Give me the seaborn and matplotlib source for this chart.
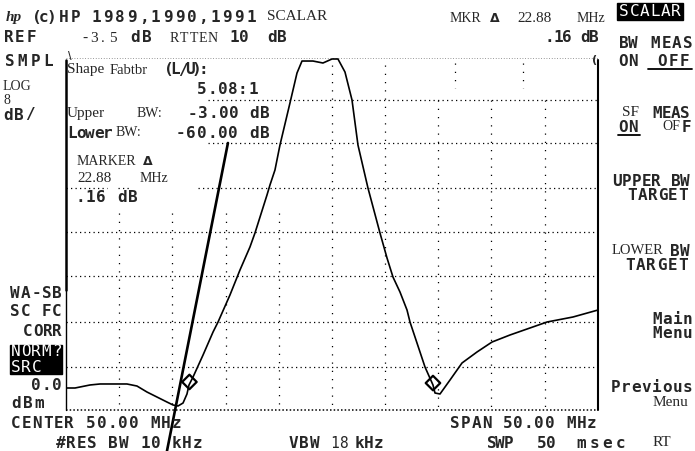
import matplotlib
matplotlib.use("Agg")
import matplotlib.pyplot as plt
from matplotlib.patches import Rectangle
from matplotlib.lines import Line2D
import pandas as pd
import seaborn as sns

# filter response
freq_mhz = [25.00, 25.85, 27.26, 28.20, 29.42, 30.73, 31.67, 32.61, 33.55, 34.49,
            35.06, 35.53, 36.00, 36.37, 36.56, 36.94, 37.88, 38.82, 39.29, 40.41,
            41.35, 42.29, 42.76, 43.89, 44.17, 44.64, 45.11, 46.05, 46.71, 47.18,
            48.21, 49.15, 50.00, 50.56, 51.22, 51.88, 52.44, 53.38, 54.51, 55.17,
            55.73, 56.39, 57.05, 57.33, 58.74, 59.49, 59.68, 60.15, 61.09, 62.22,
            63.63, 65.04, 66.73, 70.21, 72.65, 75.00]
level_db = [-63.50, -63.50, -62.95, -62.77, -62.77, -62.77, -63.14, -64.23, -65.14, -66.05,
            -66.59, -66.77, -66.23, -64.59, -62.95, -61.50, -57.50, -53.32, -51.50, -46.59,
            -42.05, -37.86, -35.32, -28.41, -26.59, -23.86, -19.32, -11.68, -6.23, -4.05,
            -4.05, -4.41, -3.68, -3.68, -6.05, -11.14, -19.32, -27.14, -35.32, -39.86,
            -43.32, -46.05, -49.32, -51.50, -59.68, -62.95, -64.41, -64.59, -62.05, -58.95,
            -56.95, -55.14, -53.86, -51.50, -50.59, -49.32]

marker_mhz = [36.60, 59.49]
marker_db = [-62.4, -62.6]

# shape factor line
line_mhz = [40.22, 34.49]
line_db = [-18.95, -74.95]

ref_db = -3.5
db_per_div = 8
start_mhz = 25.0
stop_mhz = 75.0

W, H = 695, 451
L, R, T, B = 66, 598, 58, 410

sns.set_theme(style="white")
plt.rcParams["font.family"] = ["DejaVu Sans Mono", "DejaVu Sans"]

fig = plt.figure(figsize=(W / 100, H / 100), dpi=100)
ax = fig.add_axes([L / W, (H - B) / H, (R - L) / W, (B - T) / H])
ax.set_xlim(start_mhz, stop_mhz)
ax.set_ylim(ref_db - 8 * db_per_div, ref_db)
ax.axis("off")


def fx(px):
    return start_mhz + (px - L) / (R - L) * (stop_mhz - start_mhz)


def fy(py):
    return ref_db - (py - T) / (B - T) * 8 * db_per_div


def seg(x0, y0, x1, y1, **kw):
    ax.plot([fx(x0), fx(x1)], [fy(y0), fy(y1)], clip_on=False, **kw)


hdots = dict(color="black", lw=0.9, ls=(0, (1, 2.6)))
vdots = dict(color="black", lw=0.9, ls=(0, (1, 5.6)))

# graticule, with the hole left by the text box
for y, parts in [(100, [(208, R)]), (143, [(208, R)]),
                 (188, [(L, 107), (118, 130), (198, R)]),
                 (232, [(L, R)]), (276, [(L, R)]), (322, [(L, R)]), (367, [(L, R)])]:
    for a, b in parts:
        seg(a, y, b, y, **hdots)
for x, top in [(119, 213), (172, 213), (226, 213), (279, 213),
               (332, 65), (385, 65), (438, 100), (491, 100), (545, 100)]:
    seg(x, top, x, B, **vdots)
for x in (455, 523):
    seg(x, 63, x, 88, **vdots)
seg(L, T, R, T, color="#777777", lw=0.6, ls=(0, (1, 2.2)))
seg(L, B, R, B, color="black", lw=1.1, ls=(0, (1, 1.4)))
seg(L, 60, L, 290, color="black", lw=1.8)
seg(L, 290, L, B, color="black", lw=1.0)
seg(R, 60, R, B, color="black", lw=1.5)

trace = pd.DataFrame({"MHz": freq_mhz, "dB": level_db})
sns.lineplot(data=trace, x="MHz", y="dB", sort=False, estimator=None,
             color="black", lw=1.2, ax=ax)
sns.lineplot(x=line_mhz, y=line_db, sort=False, estimator=None,
             color="black", lw=1.9, ax=ax, clip_on=False)
sns.scatterplot(x=marker_mhz, y=marker_db, marker="D", s=55, facecolor="none",
                edgecolor="black", linewidth=1.6, ax=ax, zorder=5)


def put(x, y, s, size=11, family="Liberation Serif", weight="normal", ha="left", **kw):
    fig.text(x / W, 1 - y / H, s, fontsize=size, family=family, weight=weight,
             ha=ha, va="center", **kw)


def spread(x0, x1, y, s, size=11.5, family="DejaVu Sans Mono", weight="bold", **kw):
    n = len(s)
    for i, c in enumerate(s):
        if c != " ":
            xc = x0 + (i + 0.5) * (x1 - x0) / n
            put(xc, y, c, size=size, family=family, weight=weight, ha="center", **kw)


def box(x0, y0, x1, y1):
    fig.patches.append(Rectangle((x0 / W, 1 - y1 / H), (x1 - x0) / W, (y1 - y0) / H,
                                 transform=fig.transFigure, color="black"))


def underline(x0, x1, y):
    fig.add_artist(Line2D([x0 / W, x1 / W], [1 - y / H, 1 - y / H], color="black", lw=1.3))


# header
put(6, 17, "hp", size=11, weight="bold", style="italic")
spread(33, 55, 17, "(c)")
spread(58, 82, 17, "HP")
spread(90, 257, 17, "1989,1990,1991")
put(267, 17, "SCALAR", size=11)
put(450, 19, "MKR", size=10)
put(495, 19, "Δ", size=9, family="DejaVu Sans", weight="bold", ha="center")
put(517, 19, "22.88", size=11)
put(577, 19, "MHz", size=10)
spread(545, 598, 38, ".16 dB")
spread(3, 37, 38, "REF")
spread(80, 117, 38, "-3.5", family="Liberation Serif", weight="normal", size=11)
spread(130, 152, 38, "dB")
spread(170, 217, 38, "RTTEN", family="Liberation Serif", weight="normal", size=10)
spread(230, 248, 38, "10")
spread(267, 287, 38, "dB")

# left annotations
spread(3, 55, 62, "SMPL")
put(3, 87, "LOG", size=10)
put(3, 100, "8", size=10)
spread(3, 35, 115, "dB/")
spread(10, 62, 293, "WA-SB")
spread(10, 62, 312, "SC FC")
spread(23, 62, 332, "CORR")
box(10, 345, 62, 374)
spread(10, 62, 352, "NORM?", color="white", weight="normal")
spread(10, 42, 367, "SRC", color="white", weight="normal")
spread(30, 62, 385, "0.0")
spread(10, 45, 403, "dBm")

# footer
spread(10, 182, 423, "CENTER 50.00 MHz")
spread(55, 203, 443, "#RES BW 10 kHz")
spread(288, 320, 443, "VBW")
spread(330, 348, 443, "18", weight="normal", size=10.5)
spread(355, 383, 443, "kHz")
spread(450, 597, 423, "SPAN 50.00 MHz")
spread(487, 513, 443, "SWP")
spread(537, 556, 443, "50")
spread(575, 627, 443, "msec")
put(653, 443, "RT", size=11)

# soft keys
box(617, 3, 683, 20)
spread(619, 681, 11, "SCALAR", color="white", weight="normal")
spread(620, 637, 43, "BW")
spread(650, 693, 43, "MEAS")
spread(618, 638, 61, "ON")
spread(657, 690, 61, "OFF")
underline(648, 692, 69)
put(622, 113, "SF", size=11)
spread(652, 690, 113, "MEAS")
spread(618, 638, 127, "ON")
underline(618, 640, 135)
put(662, 127, "OF", size=10)
spread(682, 690, 127, "F")
spread(612, 690, 182, "UPPER BW")
spread(627, 688, 196, "TARGET")
put(612, 251, "LOWER", size=10.5)
spread(670, 690, 251, "BW")
spread(625, 688, 265, "TARGET")
spread(652, 693, 320, "Main")
spread(652, 693, 334, "Menu")
spread(610, 693, 387, "Previous")
put(653, 402, "Menu", size=11)

# measurement box
put(67, 70, "Shape", size=11)
put(110, 70, "Fabtbr", size=10.5)
spread(165, 207, 70, "(L/U):")
spread(197, 258, 90, "5.08:1")
put(67, 114, "Upper", size=11)
put(137, 114, "BW:", size=10)
spread(187, 270, 114, "-3.00 dB")
spread(68, 112, 133, "Lower")
put(116, 133, "BW:", size=10)
spread(175, 270, 133, "-60.00 dB")
put(77, 162, "MARKER", size=10)
put(148, 162, "Δ", size=9, family="DejaVu Sans", weight="bold", ha="center")
put(77, 178, "22.88", size=11)
put(140, 178, "MHz", size=10)
spread(75, 138, 198, ".16 dB")

# trace pointers at the graticule corners
put(68, 56, "\\", size=7, family="DejaVu Sans", weight="bold")
put(592, 60, "(", size=8, family="DejaVu Sans", weight="bold")

fig.savefig("out.png", dpi=100)
